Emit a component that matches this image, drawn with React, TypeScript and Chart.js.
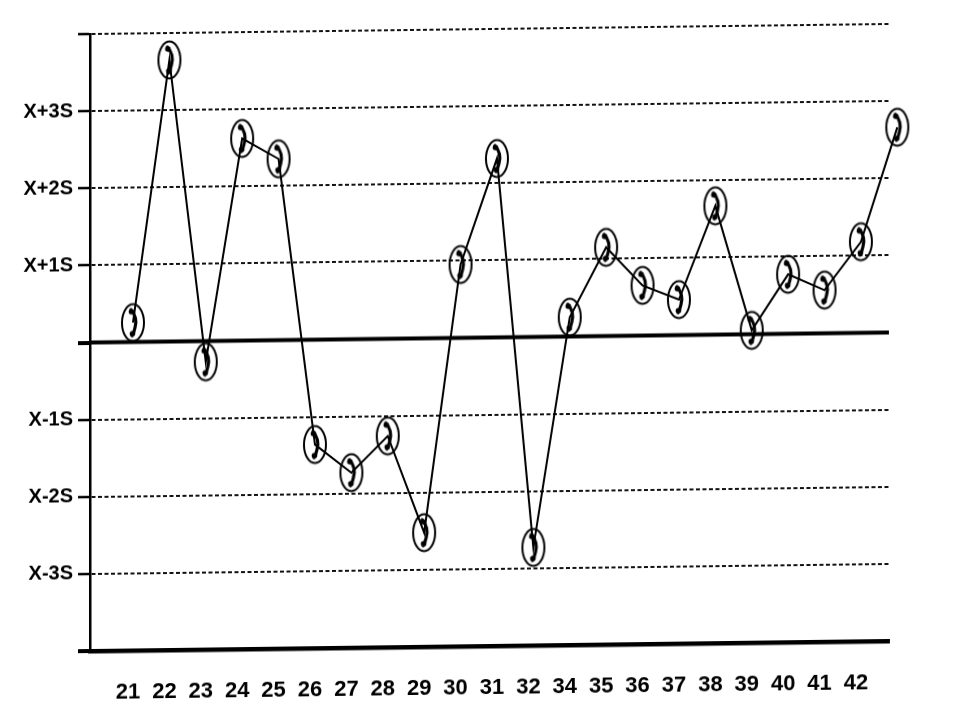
import React, { useEffect, useRef } from "react";
import { Chart, registerables } from "chart.js";

Chart.register(...registerables);

const runLabels = ["21", "22", "23", "24", "25", "26", "27", "28", "29", "30", "31", "32", "34", "35", "36", "37", "38", "39", "40", "41", "42"];
// values in SD units from the mean (the last run carries no label)
const runValues = [0.25, 3.65, -0.27, 2.62, 2.35, -1.36, -1.73, -1.26, -2.52, 0.95, 2.32, -2.73, 0.25, 1.15, 0.65, 0.46, 1.67, 0.05, 0.77, 0.56, 1.18, 2.66];
const yTickValues = [4, 3, 2, 1, 0, -1, -2, -3, -4];
const yTickLabels = ["", "X+3S", "X+2S", "X+1S", "", "X-1S", "X-2S", "X-3S", ""];
const meanValue = 0;

const FONT = "'Liberation Sans', Arial, sans-serif";
const LABEL_SHIFT = -0.137;

function makeMarker(): HTMLCanvasElement {
  const c = document.createElement("canvas");
  c.width = 28;
  c.height = 44;
  const ctx = c.getContext("2d")!;
  ctx.strokeStyle = "#000";
  ctx.lineWidth = 2;
  ctx.beginPath();
  ctx.ellipse(14, 22, 11, 18.5, 0, 0, Math.PI * 2);
  ctx.stroke();
  // squiggle glyph inside
  ctx.lineWidth = 3.2;
  ctx.lineCap = "round";
  ctx.beginPath();
  ctx.moveTo(12, 9);
  ctx.quadraticCurveTo(19, 17, 16, 27);
  ctx.quadraticCurveTo(15, 32, 13, 35);
  ctx.stroke();
  ctx.fillStyle = "#000";
  ctx.beginPath();
  ctx.arc(12.5, 11, 2.8, 0, Math.PI * 2);
  ctx.fill();
  ctx.beginPath();
  ctx.arc(13.5, 33, 2.8, 0, Math.PI * 2);
  ctx.fill();
  return c;
}

export default function App() {
  const ref = useRef<HTMLCanvasElement>(null);

  useEffect(() => {
    if (!ref.current) return;
    const marker = makeMarker();
    const xMin = -1.181;
    const xMax = 20.77;
    const chart = new Chart(ref.current, {
      type: "line",
      data: {
        datasets: [
          {
            label: "Mean",
            data: [
              { x: xMin, y: meanValue },
              { x: xMax, y: meanValue },
            ],
            borderColor: "#000",
            borderWidth: 4,
            pointRadius: 0,
            order: 2,
          },
          {
            label: "Control",
            data: runValues.map((v, i) => ({ x: i, y: v })),
            borderColor: "#000",
            borderWidth: 2,
            pointStyle: marker as any,
            pointRadius: 12,
            clip: false as any,
            order: 1,
          },
        ],
      },
      options: {
        animation: false,
        responsive: false,
        events: [],
        layout: { padding: { left: 0, top: 29, right: 71, bottom: 0 } },
        plugins: { legend: { display: false }, tooltip: { enabled: false } },
        scales: {
          x: {
            type: "linear",
            min: xMin,
            max: xMax,
            afterBuildTicks: (s: any) => {
              s.ticks = runLabels.map((_, i) => ({ value: i + LABEL_SHIFT }));
            },
            afterFit: (s: any) => {
              s.height = 74;
            },
            ticks: {
              autoSkip: false,
              maxRotation: 0,
              padding: 21,
              color: "#000",
              font: { family: FONT, size: 22, weight: "bold" },
              callback: (v: any) => runLabels[Math.round(Number(v) - LABEL_SHIFT)] ?? "",
            },
            grid: { display: false },
            border: { display: true, color: "#000", width: 4.5 },
          },
          y: {
            min: -4,
            max: 4,
            afterBuildTicks: (s: any) => {
              s.ticks = yTickValues.map((v) => ({ value: v }));
            },
            afterFit: (s: any) => {
              s.width = 90;
            },
            ticks: {
              padding: 5,
              color: "#000",
              font: { family: FONT, size: 20, weight: "bold" },
              callback: (v: any) => {
                const idx = yTickValues.indexOf(Number(v));
                return idx >= 0 ? yTickLabels[idx] : "";
              },
            },
            grid: {
              color: "#111",
              lineWidth: 2,
              tickLength: 12,
              tickColor: "#000",
              tickWidth: (ctx: any) => (ctx.tick && (ctx.tick.value === 0 || ctx.tick.value === -4) ? 4 : 2.5),
            },
            border: { display: true, color: "#000", width: 2.5, dash: [4, 2.5] },
          },
        },
      },
    });
    return () => chart.destroy();
  }, []);

  return (
    <div
      style={{
        position: "absolute",
        left: 0,
        top: 0,
        width: 960,
        height: 720,
        background: "#fff",
        transform: "skewY(-0.72deg)",
        transformOrigin: "490px 338px",
      }}
    >
      <canvas ref={ref} width={960} height={720} style={{ display: "block" }} />
    </div>
  );
}
